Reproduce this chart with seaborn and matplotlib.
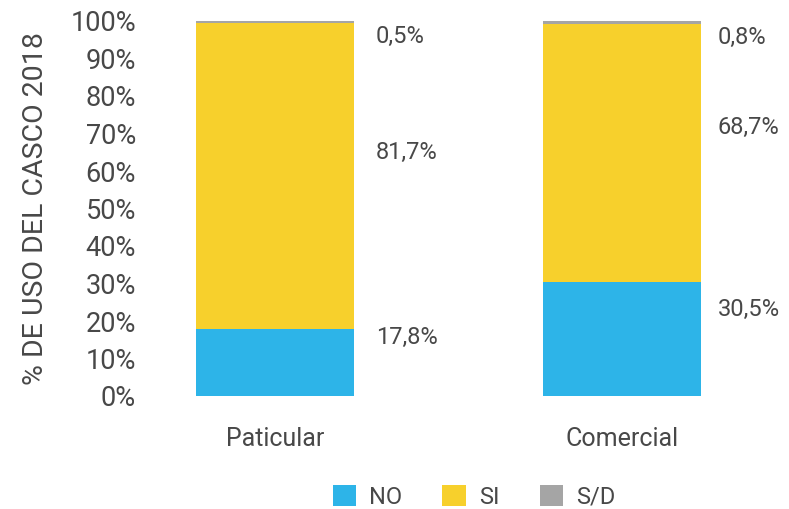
import matplotlib
matplotlib.use("Agg")
import matplotlib.pyplot as plt
from matplotlib.patches import Patch
import seaborn as sns
import pandas as pd
import numpy as np

categories = ["Paticular", "Comercial"]
no_vals = [17.8, 30.5]
si_vals = [81.7, 68.7]
sd_vals = [0.5, 0.8]
series_names = ["NO", "SI", "S/D"]
colors = ["#2DB4E8", "#F7D02C", "#A5A5A5"]
yticks = list(range(0, 101, 10))

sns.set_theme(style="white")
plt.rcParams["font.family"] = ["Roboto", "DejaVu Sans"]
TXT = "#484848"

fig = plt.figure(figsize=(7.89, 5.09), dpi=100)
# axes: left edge at 150 px, bar centres at 275 and 622 px
x_left = -(275 - 150) / 347
x_right = 1.45
ax_w = 622 + 0.45 * 347 - 150
ax = fig.add_axes([150 / 789, 113 / 509, ax_w / 789, 375 / 509])

no = np.array(no_vals)
si = np.array(si_vals)
sd = np.array(sd_vals)
cum = [no + si + sd, no + si, no]
for vals, col in zip(cum, colors[::-1]):
    df = pd.DataFrame({"cat": categories, "val": vals})
    sns.barplot(data=df, x="cat", y="val", color=col, width=0.455,
                saturation=1, ax=ax, edgecolor="none", linewidth=0)

ax.set_xlim(x_left, x_right)
ax.set_ylim(0, 100)
ax.set_yticks(yticks)
ax.set_yticklabels([f"{t}%" for t in yticks], fontsize=19.5, color=TXT)
ax.tick_params(axis="x", length=0, pad=22, labelsize=18, labelcolor=TXT)
ax.tick_params(axis="y", length=0, pad=10)
ax.set_xlabel("")
ax.set_ylabel("% DE USO DEL CASCO 2018", fontsize=20.5, color=TXT)
ax.yaxis.set_label_coords((49 - 150) / ax_w, 0.5)
for s in ax.spines.values():
    s.set_visible(False)

# value labels (label layout positions in % units)
label_y = {"NO": [15.7, 23.0], "SI": [65.0, 71.5], "S/D": [96.0, 95.5]}
series_vals = {"NO": no_vals, "SI": si_vals, "S/D": sd_vals}
offsets = [0.29, 0.275]
for name in series_names:
    for i, v in enumerate(series_vals[name]):
        ax.text(i + offsets[i], label_y[name][i], f"{v:.1f}%".replace(".", ","),
                fontsize=17, color=TXT, va="center", ha="left")

handles = [Patch(facecolor=c, edgecolor="none", label=n) for n, c in zip(series_names, colors)]
fig.legend(handles=handles, loc="center", bbox_to_anchor=(474 / 789, 1 - 497 / 509),
           ncol=3, frameon=False, handlelength=1.0, handleheight=1.0,
           handletextpad=0.55, columnspacing=1.7, labelcolor=TXT,
           prop={"size": 17})

fig.savefig("out.png", dpi=100)
